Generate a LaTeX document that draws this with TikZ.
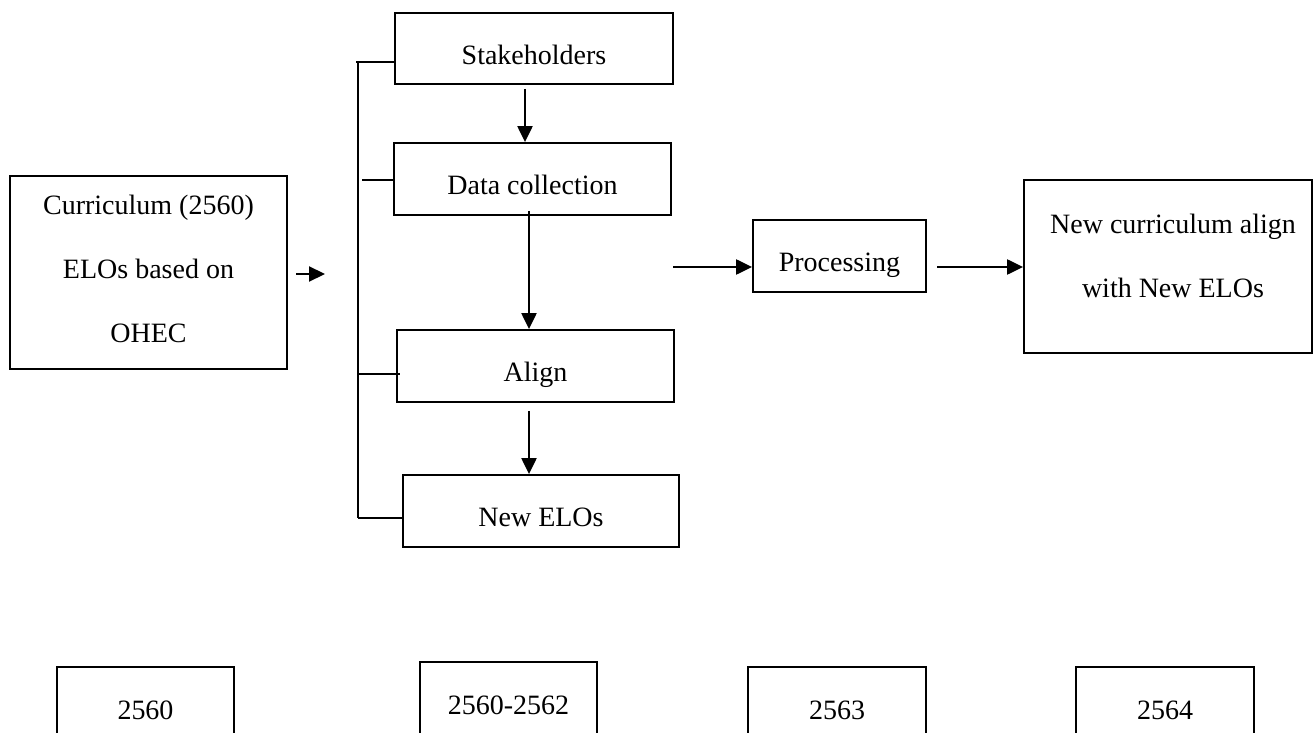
\documentclass[tikz,border=0pt]{standalone}
\usepackage{fontspec}
\setmainfont{Liberation Serif}
\usetikzlibrary{arrows.meta,calc}
\begin{document}
\begin{tikzpicture}[x=0.5pt,y=-0.5pt,
  box/.style={draw,line width=0.9pt,inner sep=0pt,font=\fontsize{14}{32}\selectfont,align=center},
  low/.style={text height=15.6pt,text depth=0pt},
  txt/.style={inner sep=0pt,font=\fontsize{14}{32}\selectfont,align=center},
  arr/.style={line width=1.1pt,-{Triangle[length=8pt,width=7.5pt]}},
  brk/.style={line width=0.9pt}]
\useasboundingbox (0,0) rectangle (1314,733);
\clip (0,0) rectangle (1314,733);
% main boxes
\node[box,minimum width=138.5pt,minimum height=96.5pt] (cur) at (148.5,272.5) {};
\node[txt] (curt) at ($(cur.center)+(0,-4)$) {Curriculum (2560)\\ELOs based on\\OHEC};
\node[box,low,minimum width=139pt,minimum height=35.5pt] (stake) at (534,48.5) {Stakeholders};
\node[box,low,minimum width=138.5pt,minimum height=36pt] (data) at (532.5,179) {Data collection};
\node[box,low,minimum width=138.5pt,minimum height=36pt] (align) at (535.5,366) {Align};
\node[box,low,minimum width=138pt,minimum height=36pt] (newelo) at (541,511) {New ELOs};
\node[box,low,minimum width=86.5pt,minimum height=36pt] (proc) at (839.5,256) {Processing};
\node[box,minimum width=144pt,minimum height=86.5pt] (newcur) at (1168,266.5) {};
\node[txt] (newcurt) at ($(newcur.center)+(5,-11)$) {New curriculum align\\with New ELOs};
% year boxes
\node[box,minimum width=88.5pt,minimum height=43pt] (y1) at (145.5,710) {2560};
\node[box,minimum width=88.5pt,minimum height=43pt] (y2) at (508.5,705) {2560-2562};
\node[box,minimum width=89pt,minimum height=43pt] (y3) at (837,710) {2563};
\node[box,minimum width=89pt,minimum height=43pt] (y4) at (1165,710) {2564};
% helper coordinates
\coordinate (a0s) at (296,274);
\coordinate (a0e) at (325,274);
\coordinate (c1) at (525,0);
\coordinate (c2) at (529,0);
\coordinate (ps) at (673,267);
\coordinate (pe) at (937,267);
\coordinate (bt) at (358,62);
\coordinate (bb) at (358,518);
\coordinate (t2) at (362,180);
\coordinate (t3) at (400,374);
\coordinate (t4) at (404,518);
% bracket
\draw[brk] (bt) -- (bb);
\draw[brk] ($(bt)+(-2,0)$) -- (stake.west |- bt);
\draw[brk] (t2) -- (data.west |- t2);
\draw[brk] (bt |- t3) -- (t3);
\draw[brk] (bb) -- (t4);
% arrows
\draw[arr] (a0s) -- (a0e);
\draw[arr,shorten <=2pt] (stake.south -| c1) -- (data.north -| c1);
\draw[arr,shorten <=-2.5pt] (data.south -| c2) -- (align.north -| c2);
\draw[arr,shorten <=4pt] (align.south -| c2) -- (newelo.north -| c2);
\draw[arr] (ps) -- (proc.west |- ps);
\draw[arr] (pe) -- (newcur.west |- pe);
\end{tikzpicture}
\end{document}
